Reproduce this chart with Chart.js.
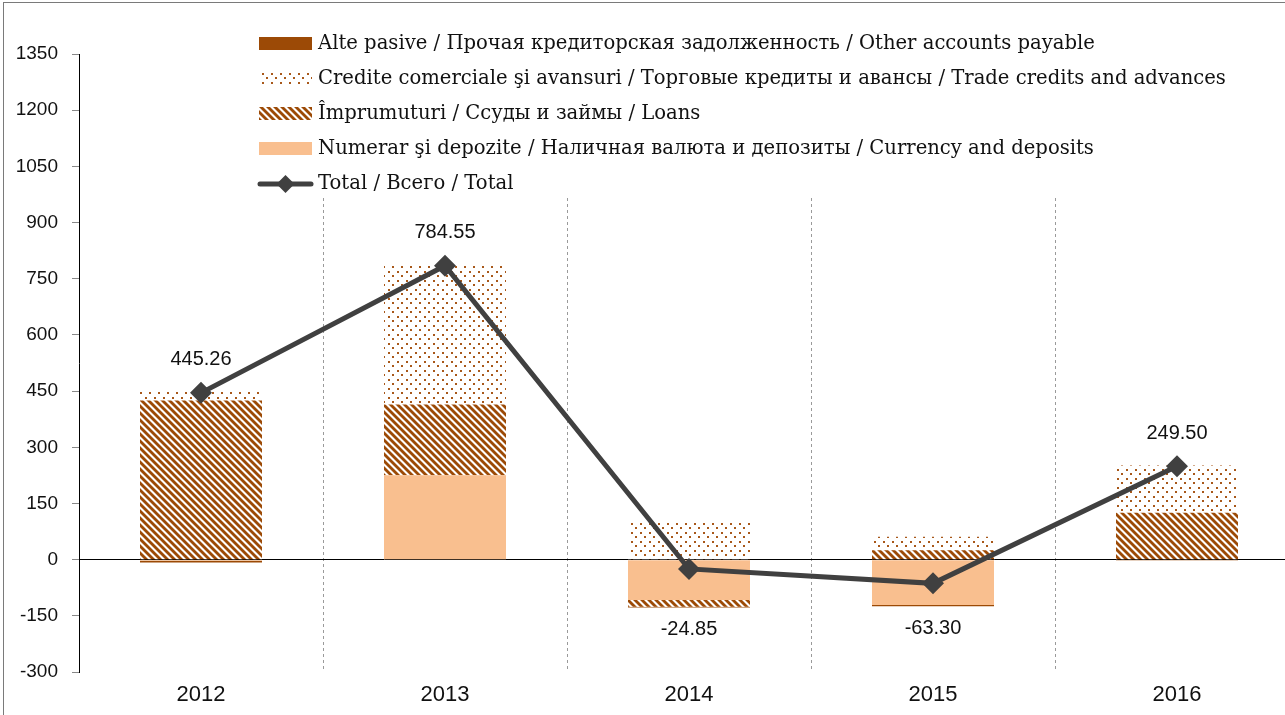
<!DOCTYPE html>
<html lang="ro">
<head>
<meta charset="UTF-8">
<title>Pasive - 2012-2016</title>
<script src="https://cdn.jsdelivr.net/npm/chart.js"></script>
<style>
  html, body { margin: 0; padding: 0; background: #fff; overflow: hidden; }
  #wrap { position: relative; width: 1285px; height: 715px; overflow: hidden; }
  #wrap canvas { position: absolute; left: 0; top: 0; }
  #frame {
    position: absolute; left: 3px; top: 2px; width: 1310px; height: 720px;
    border-top: 1px solid #7a7a7a; border-left: 1px solid #7a7a7a;
    pointer-events: none;
  }
</style>
</head>
<body>
<div id="wrap">
  <canvas id="myChart" width="1310" height="715"></canvas>
  <div id="frame"></div>
</div>
<script>
// date
const years = ['2012', '2013', '2014', '2015', '2016'];
const currencyDeposits = [-3, 225, -108, -121.3, 0];
const loans = [425, 189, -18, 25, 125.5];
const tradeCredits = [28, 370.5, 103.15, 36, 126];
const otherPayable = [-4.74, 0.05, -2, -3, -2];
const total = [445.26, 784.55, -24.85, -63.30, 249.50];
const yMin = -300, yMax = 1350, yStep = 150;

const BROWN = '#9c4a06';
const PEACH = '#f9bf8f';
const LINE = '#404040';

function stripePattern() {
    const c = document.createElement('canvas');
    c.width = 7; c.height = 7;
    const g = c.getContext('2d');
    g.fillStyle = '#fff';
    g.fillRect(0, 0, 7, 7);
    g.strokeStyle = BROWN;
    g.lineWidth = 2.8;
    [-7, 0, 7].forEach(o => {
        g.beginPath();
        g.moveTo(o - 1, -1);
        g.lineTo(o + 8, 8);
        g.stroke();
    });
    return g.createPattern(c, 'repeat');
}

function dotPattern() {
    const c = document.createElement('canvas');
    c.width = 9; c.height = 9;
    const g = c.getContext('2d');
    g.fillStyle = '#fff';
    g.fillRect(0, 0, 9, 9);
    g.fillStyle = '#a8581a';
    g.fillRect(1, 1, 2, 2);
    g.fillRect(5, 5, 2, 2);
    return g.createPattern(c, 'repeat');
}

const stripes = stripePattern();
const dots = dotPattern();

// legenda desenata in interiorul zonei graficului
const legendPlugin = {
    id: 'legendBox',
    afterDraw(chart) {
        const ctx = chart.ctx;
        ctx.save();
        ctx.fillStyle = '#fff';
        ctx.fillRect(250, 24, 1000, 174);
        const rows = [
            { ds: 3, y: 44 },
            { ds: 2, y: 79 },
            { ds: 1, y: 114 },
            { ds: 0, y: 149 },
            { ds: 4, y: 184 }
        ];
        ctx.font = '19.6px "DejaVu Serif", serif';
        ctx.textBaseline = 'middle';
        rows.forEach(r => {
            const ds = chart.data.datasets[r.ds];
            if (ds.type === 'line') {
                ctx.strokeStyle = LINE;
                ctx.lineWidth = 5;
                ctx.lineCap = 'round';
                ctx.beginPath();
                ctx.moveTo(260, r.y);
                ctx.lineTo(311, r.y);
                ctx.stroke();
                ctx.fillStyle = LINE;
                ctx.beginPath();
                ctx.moveTo(285.5, r.y - 9);
                ctx.lineTo(294.5, r.y);
                ctx.lineTo(285.5, r.y + 9);
                ctx.lineTo(276.5, r.y);
                ctx.closePath();
                ctx.fill();
            } else {
                ctx.fillStyle = ds.backgroundColor;
                ctx.fillRect(259, r.y - 7, 53, 13);
            }
            ctx.fillStyle = '#111';
            ctx.fillText(ds.label, 318, r.y);
        });
        ctx.restore();
    }
};

// etichete pentru total
const totalLabels = {
    id: 'totalLabels',
    afterDatasetsDraw(chart) {
        const ctx = chart.ctx;
        const yScale = chart.scales.y;
        const meta = chart.getDatasetMeta(4);
        ctx.save();
        ctx.font = '20px "Liberation Sans", sans-serif';
        ctx.fillStyle = '#111';
        ctx.textAlign = 'center';
        ctx.textBaseline = 'middle';
        meta.data.forEach((pt, i) => {
            const v = total[i];
            let y;
            if (v >= 0) {
                y = pt.y - 33;
            } else {
                let neg = 0;
                [currencyDeposits, loans, tradeCredits, otherPayable].forEach(arr => {
                    if (arr[i] < 0) neg += arr[i];
                });
                y = yScale.getPixelForValue(neg) + 22;
            }
            ctx.fillText(v.toFixed(2), pt.x, y);
        });
        ctx.restore();
    }
};

const ctx = document.getElementById('myChart').getContext('2d');
new Chart(ctx, {
    type: 'bar',
    data: {
        labels: years,
        datasets: [
            {
                label: 'Numerar şi depozite / Наличная валюта и депозиты / Currency and deposits',
                data: currencyDeposits,
                backgroundColor: PEACH,
                stack: 'bars',
                order: 1
            },
            {
                label: 'Împrumuturi / Ссуды и займы / Loans',
                data: loans,
                backgroundColor: stripes,
                stack: 'bars',
                order: 1
            },
            {
                label: 'Credite comerciale şi avansuri / Торговые кредиты и авансы / Trade credits and advances',
                data: tradeCredits,
                backgroundColor: dots,
                stack: 'bars',
                order: 1
            },
            {
                label: 'Alte pasive / Прочая кредиторская задолженность / Other accounts payable',
                data: otherPayable,
                backgroundColor: BROWN,
                stack: 'bars',
                order: 1
            },
            {
                type: 'line',
                label: 'Total / Всего / Total',
                data: total,
                borderColor: LINE,
                backgroundColor: LINE,
                borderWidth: 5,
                pointStyle: 'rectRot',
                pointRadius: 11,
                pointHoverRadius: 11,
                pointBackgroundColor: LINE,
                pointBorderWidth: 0,
                stack: 'total',
                order: 0
            }
        ]
    },
    options: {
        responsive: false,
        animation: false,
        events: [],
        layout: { padding: { top: 54, left: 0, right: 2, bottom: 0 } },
        categoryPercentage: 1,
        barPercentage: 0.5,
        plugins: {
            legend: { display: false },
            tooltip: { enabled: false },
            title: { display: false }
        },
        scales: {
            x: {
                stacked: true,
                afterFit: s => { s.height = 43; },
                border: { display: false, dash: [3, 3] },
                grid: {
                    color: '#9a9a9a',
                    lineWidth: 1,
                    drawTicks: false,
                    offset: true
                },
                ticks: {
                    padding: 10,
                    color: '#111',
                    font: { family: '"Liberation Sans Narrow", "Liberation Sans", sans-serif', size: 22 }
                }
            },
            y: {
                stacked: true,
                min: yMin,
                max: yMax,
                afterFit: s => { s.width = 79; },
                border: { display: true, color: '#000', width: 1 },
                grid: {
                    color: c => (c.tick && c.tick.value === 0) ? '#000' : 'rgba(0,0,0,0)',
                    tickColor: '#888',
                    tickLength: 7,
                    lineWidth: 1
                },
                ticks: {
                    stepSize: yStep,
                    padding: 14,
                    color: '#111',
                    font: { family: '"Liberation Sans", sans-serif', size: 19 },
                    callback: v => String(v)
                }
            }
        }
    },
    plugins: [totalLabels, legendPlugin]
});
</script>
</body>
</html>
